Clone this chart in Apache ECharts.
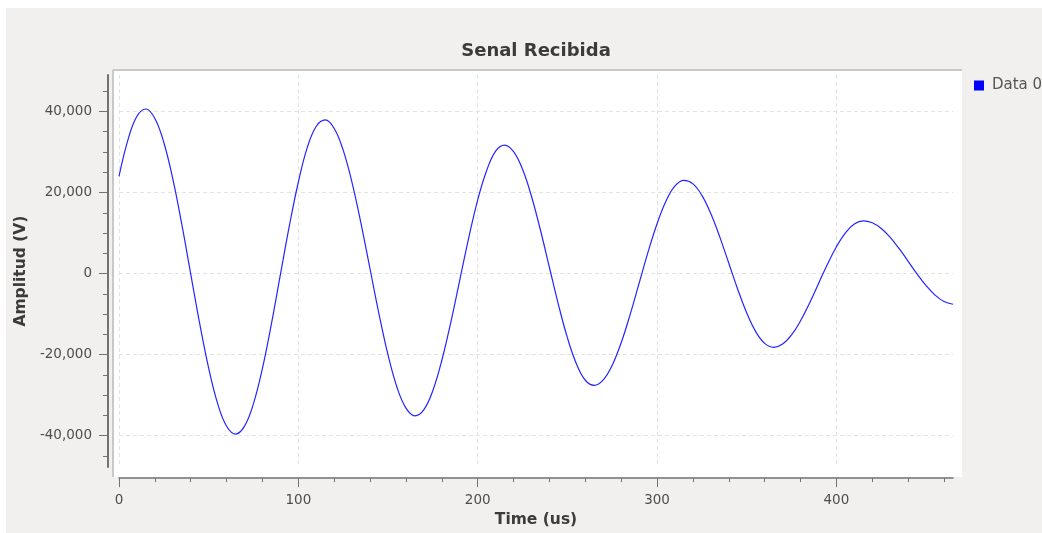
<!DOCTYPE html>
<html>
<head>
<meta charset="utf-8">
<title>Senal Recibida</title>
<script src="https://cdn.jsdelivr.net/npm/echarts@6/dist/echarts.min.js"></script>
<style>
  html, body { margin: 0; padding: 0; background: #fff; }
  #chart { width: 1042px; height: 533px; }
</style>
</head>
<body>
<div id="chart"></div>
<script>
// tiempo (us) y amplitud (V)
var times = [
    0, 5, 10, 15, 20, 25, 30, 35, 40, 45,
    50, 55, 60, 65, 70, 75, 80, 85, 90, 95,
    100, 105, 110, 115, 120, 125, 130, 135, 140, 145,
    150, 155, 160, 165, 170, 175, 180, 185, 190, 195,
    200, 205, 210, 215, 220, 225, 230, 235, 240, 245,
    250, 255, 260, 265, 270, 275, 280, 285, 290, 295,
    300, 305, 310, 315, 320, 325, 330, 335, 340, 345,
    350, 355, 360, 365, 370, 375, 380, 385, 390, 395,
    400, 405, 410, 415, 420, 425, 430, 435, 440, 445,
    450, 455, 460, 465
];
var amplitudes = [
    24000, 33000, 38800, 40600, 38270, 32340, 23360, 12170, -120, -12370,
    -23360, -32100, -37680, -39600, -37660, -32040, -23330, -12360, -230, 11820,
    22590, 31120, 36350, 37900, 35800, 30440, 22320, 12200, 1060, -10060,
    -20080, -28070, -33210, -35100, -33560, -28850, -21400, -12020, -1600, 8820,
    18200, 25440, 30220, 31700, 30070, 25710, 19020, 10680, 1490, -7650,
    -15830, -22250, -26330, -27600, -26250, -22620, -17080, -10090, -2380, 5340,
    12300, 17900, 21620, 23000, 22120, 19280, 14730, 8980, 2530, -3920,
    -9720, -14340, -17230, -18200, -17380, -15130, -11660, -7310, -2500, 2300,
    6610, 10060, 12240, 13000, 12520, 11100, 8910, 6130, 3020, -120,
    -2980, -5320, -6910, -7580
];
var xTicks = [0, 100, 200, 300, 400];
var yTicks = [-40000, -20000, 0, 20000, 40000];

var seriesData = times.map(function (t, i) {
    return [t, amplitudes[i]];
});

var axisColor = '#727272';
var labelStyle = { color: '#4d4d4d', fontSize: 13.5, fontFamily: 'DejaVu Sans' };
var nameStyle = { color: '#3b3b3b', fontSize: 15.5, fontWeight: 'bold', fontFamily: 'DejaVu Sans' };

var option = {
    backgroundColor: '#fff',
    animation: false,
    graphic: [
        { type: 'rect', z: -20, shape: { x: 6, y: 8, width: 1036, height: 525 }, style: { fill: '#f1f0ef' } },
        { type: 'rect', z: -10, shape: { x: 113, y: 70, width: 849, height: 407 }, style: { fill: '#fff' } },
        { type: 'line', z: -9, shape: { x1: 113, y1: 70, x2: 962, y2: 70 }, style: { stroke: '#c8c8c8', lineWidth: 2 } },
        { type: 'line', z: -9, shape: { x1: 113, y1: 70, x2: 113, y2: 477 }, style: { stroke: '#c8c8c8', lineWidth: 2 } }
    ],
    title: {
        text: 'Senal Recibida',
        left: 536,
        top: 42,
        padding: 0,
        textAlign: 'center',
        textStyle: { color: '#3b3b3b', fontSize: 18, fontWeight: 'bold', fontFamily: 'DejaVu Sans' }
    },
    legend: {
        data: ['Data 0'],
        left: 974,
        top: 78,
        padding: 0,
        icon: 'rect',
        itemWidth: 10,
        itemHeight: 10,
        textStyle: { color: '#555', fontSize: 15, fontFamily: 'DejaVu Sans', padding: [0, 0, 0, 3] }
    },
    grid: {
        left: 119,
        right: 89,
        top: 75,
        bottom: 63
    },
    xAxis: {
        type: 'value',
        min: 0,
        max: 465,
        offset: 11,
        name: 'Time (us)',
        nameLocation: 'middle',
        nameGap: 33,
        nameTextStyle: nameStyle,
        axisLine: { onZero: false, lineStyle: { color: axisColor, width: 1.5 } },
        axisTick: { length: 9, customValues: xTicks, lineStyle: { color: axisColor } },
        minorTick: { show: true, splitNumber: 5, length: 4, lineStyle: { color: axisColor } },
        axisLabel: Object.assign({ margin: 15, customValues: xTicks }, labelStyle),
        splitLine: { show: true, lineStyle: { color: '#e2e2e2', type: [4, 3] } }
    },
    yAxis: {
        type: 'value',
        min: -47760,
        max: 48990,
        offset: 11,
        name: 'Amplitud (V)',
        nameLocation: 'middle',
        nameGap: 73,
        nameTextStyle: nameStyle,
        axisLine: { show: true, onZero: false, lineStyle: { color: axisColor, width: 2 } },
        axisTick: { show: true, length: 9, customValues: yTicks, lineStyle: { color: axisColor } },
        minorTick: { show: true, splitNumber: 4, length: 5, lineStyle: { color: axisColor } },
        axisLabel: Object.assign({ margin: 16, customValues: yTicks }, labelStyle),
        splitLine: { show: true, lineStyle: { color: '#e2e2e2', type: [4, 3] } }
    },
    series: [
        {
            name: 'Data 0',
            type: 'line',
            data: seriesData,
            smooth: 0.4,
            showSymbol: false,
            color: '#0000ff',
            lineStyle: { color: '#2424ff', width: 1.2 }
        }
    ]
};

echarts.init(document.getElementById('chart')).setOption(option);
</script>
</body>
</html>
